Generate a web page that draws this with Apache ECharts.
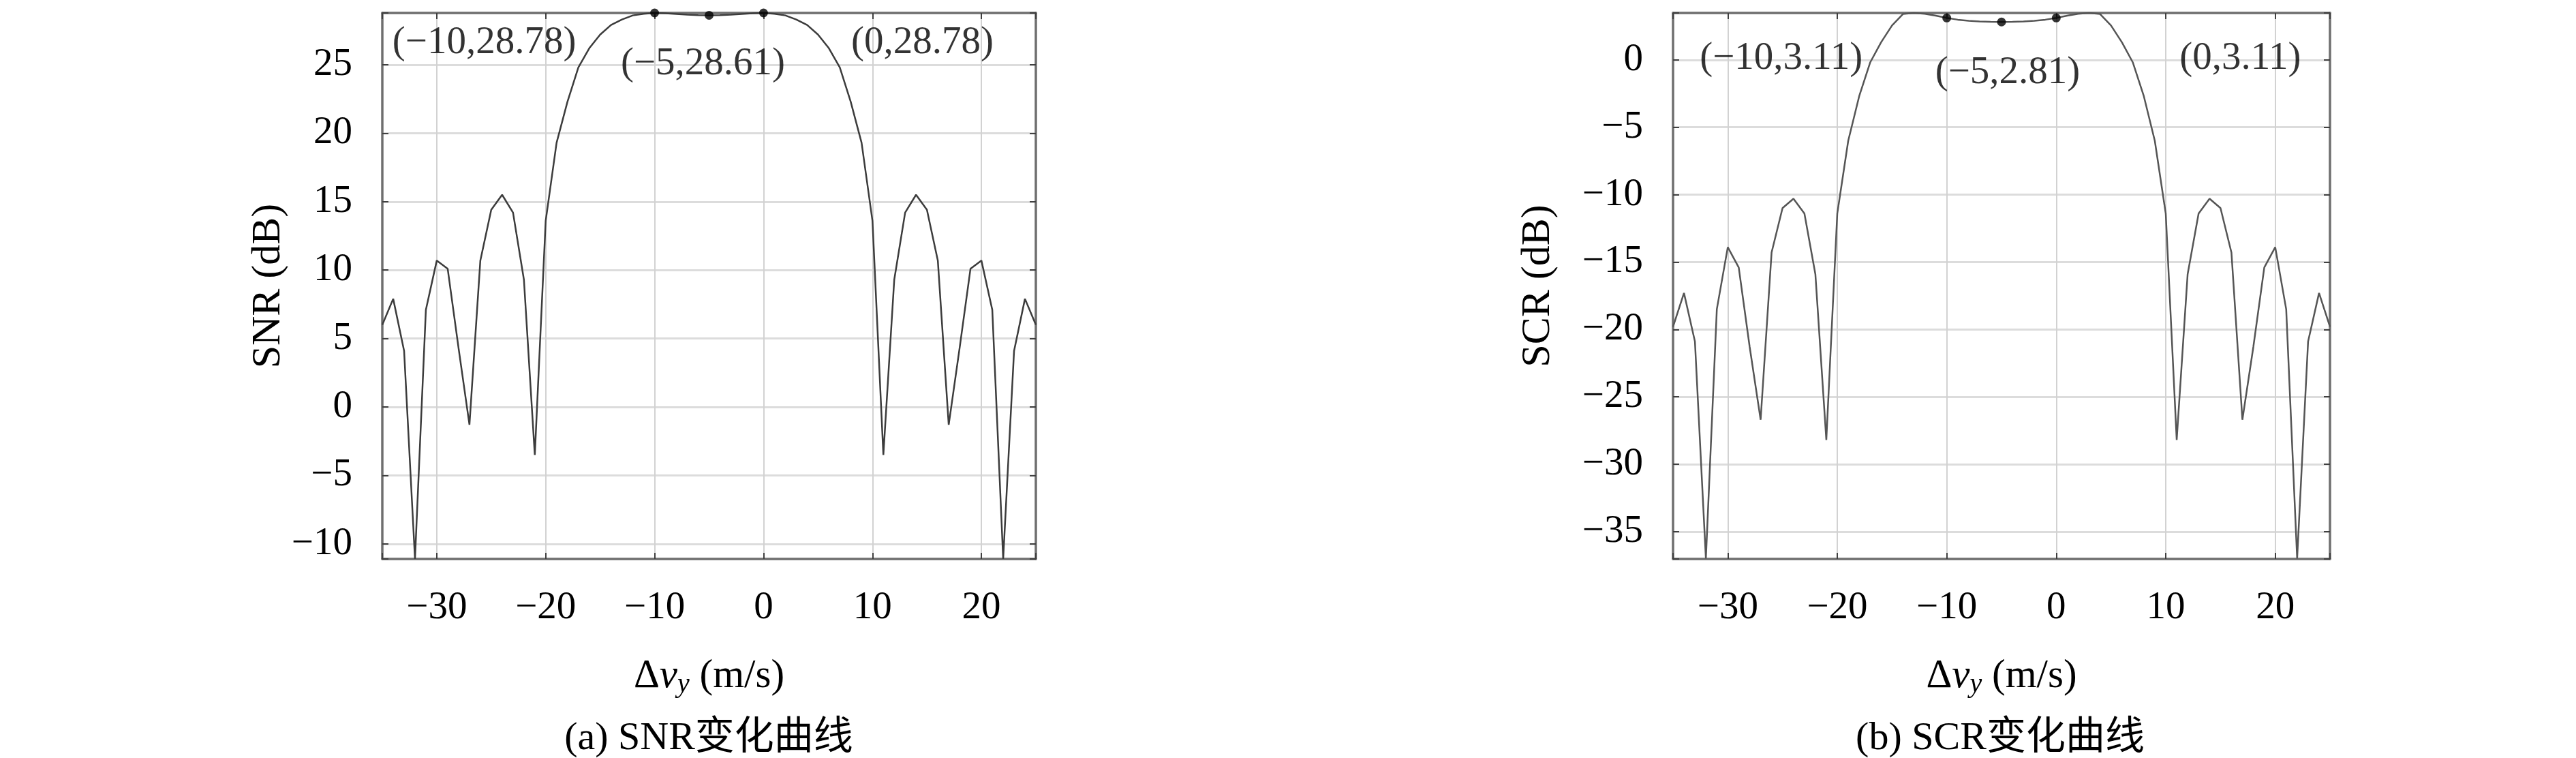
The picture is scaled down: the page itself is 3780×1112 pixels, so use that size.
<!DOCTYPE html>
<html>
<head>
<meta charset="utf-8">
<script src="https://cdn.jsdelivr.net/npm/echarts@6/dist/echarts.min.js"></script>
<style>
html,body{margin:0;padding:0;background:#ffffff;}
#chart{width:3780px;height:1112px;}
</style>
</head>
<body>
<div id="chart"></div>
<script>
// ---------------- data ----------------
const velocity = [-35,-34,-33,-32,-31,-30,-29,-28,-27,-26,-25,-24,-23,-22,-21,-20,-19,-18,-17,-16,-15,-14,-13,-12,-11,-10,-9,-8,-7,-6,-5,-4,-3,-2,-1,0,1,2,3,4,5,6,7,8,9,10,11,12,13,14,15,16,17,18,19,20,21,22,23,24,25];
const snrValues = [6.0,7.9,4.1,-11.1,7.1,10.7,10.1,4.3,-1.3,10.7,14.4,15.5,14.2,9.3,-3.5,13.6,19.3,22.3,24.8,26.2,27.2,27.9,28.3,28.6,28.72,28.78,28.76,28.71,28.66,28.62,28.61,28.62,28.66,28.71,28.76,28.78,28.72,28.6,28.3,27.9,27.2,26.2,24.8,22.3,19.3,13.6,-3.5,9.3,14.2,15.5,14.4,10.7,-1.3,4.3,10.1,10.7,7.1,-11.1,4.1,7.9,6.0];
const scrValues = [-19.8,-17.3,-20.9,-37.0,-18.5,-13.9,-15.4,-21.3,-26.7,-14.3,-11.0,-10.3,-11.4,-15.9,-28.2,-11.4,-6.0,-2.7,-0.2,1.3,2.55,3.4,3.48,3.42,3.28,3.11,2.98,2.9,2.85,2.82,2.81,2.82,2.85,2.9,2.98,3.11,3.28,3.42,3.48,3.4,2.55,1.3,-0.2,-2.7,-6.0,-11.4,-28.2,-15.9,-11.4,-10.3,-11.0,-14.3,-26.7,-21.3,-15.4,-13.9,-18.5,-37.0,-20.9,-17.3,-19.8];
const snrMarkX = [-10,-5,0];
const snrMarkY = [28.78,28.61,28.78];
const scrMarkX = [-10,-5,0];
const scrMarkY = [3.11,2.81,3.11];
const xTickLabels = [-30,-20,-10,0,10,20];
const snrTickLabels = [-10,-5,0,5,10,15,20,25];
const scrTickLabels = [-35,-30,-25,-20,-15,-10,-5,0];
const xRange = [-35,25];
const snrRange = [-11.1,28.78];
const scrRange = [-37.03,3.48];
const snrAxisTitle = 'SNR (dB)';
const scrAxisTitle = 'SCR (dB)';
const captions = ['(a) SNR变化曲线','(b) SCR变化曲线'];

// ---------------- styling / layout ----------------
const FONT = '"Liberation Serif", "Times New Roman", serif';
const MINUS = '\u2212';
const fmt = v => (v < 0 ? MINUS + Math.abs(v) : String(v));
const frameLine = {show:true, onZero:false, lineStyle:{color:'#6f6f6f', width:3.5}};
const tickStyle = {show:true, inside:true, length:9, lineStyle:{color:'#404040', width:2}};

function pairs(xs, ys){ return xs.map((x,i)=>[x, ys[i]]); }

function xAxes(gridIndex){
  return [
    {
      type:'value', gridIndex, min:xRange[0], max:xRange[1], splitNumber:6, position:'bottom',
      axisLine:frameLine, axisTick:tickStyle,
      axisLabel:{show:true, margin:44, fontSize:57, fontFamily:FONT, color:'#000',
        formatter: v => xTickLabels.includes(v) ? fmt(v) : ''},
      splitLine:{show:true, lineStyle:{color:'#d2d2d2', width:2}},
      name:'{d|Δ}{v|v}{s|y}{d| (m/s)}', nameLocation:'middle', nameGap:136,
      nameTextStyle:{color:'#000', fontFamily:FONT, fontSize:59,
        rich:{
          d:{fontFamily:FONT, fontSize:59, lineHeight:72, color:'#000'},
          v:{fontFamily:FONT, fontStyle:'italic', fontSize:59, lineHeight:72, color:'#000'},
          s:{fontFamily:FONT, fontStyle:'italic', fontSize:40, lineHeight:72, padding:[24,0,0,0], color:'#000'}
        }}
    },
    {
      type:'value', gridIndex, min:xRange[0], max:xRange[1], splitNumber:6, position:'top',
      axisLine:frameLine, axisTick:tickStyle, axisLabel:{show:false}, splitLine:{show:false}
    }
  ];
}

function yAxes(gridIndex, range, ticks, title, gap){
  return [
    {
      type:'value', gridIndex, min:range[0], max:range[1], splitNumber:8, position:'left',
      axisLine:frameLine, axisTick:tickStyle,
      axisLabel:{show:true, margin:44, fontSize:57, fontFamily:FONT, color:'#000',
        formatter: v => ticks.includes(v) ? fmt(v) : ''},
      splitLine:{show:true, lineStyle:{color:'#dcdcdc', width:3}},
      name:title, nameLocation:'middle', nameGap:gap,
      nameTextStyle:{color:'#000', fontFamily:FONT, fontSize:60}
    },
    {
      type:'value', gridIndex, min:range[0], max:range[1], splitNumber:8, position:'right',
      axisLine:frameLine, axisTick:tickStyle, axisLabel:{show:false}, splitLine:{show:false}
    }
  ];
}

function markSeries(xi, yi, xs, ys, offsets){
  return {
    type:'scatter', xAxisIndex:xi, yAxisIndex:yi, clip:false, z:10,
    symbol:'circle', symbolSize:13, itemStyle:{color:'#000'},
    data: xs.map((x,i)=>({
      value:[x, ys[i]],
      label:{show:true, position:'inside', offset:offsets[i]}
    })),
    label:{show:true, color:'#000', fontFamily:FONT, fontSize:57,
      formatter: p => '(' + fmt(p.value[0]) + ',' + p.value[1].toFixed(2) + ')'},
    emphasis:{disabled:true}
  };
}

const option = {
  animation:false,
  backgroundColor:'#ffffff',
  grid:[
    {left:561, right:2260, top:19, bottom:292, containLabel:false},
    {left:2455, right:361, top:19, bottom:292, containLabel:false}
  ],
  xAxis:[...xAxes(0), ...xAxes(1)],
  yAxis:[...yAxes(0, snrRange, snrTickLabels, snrAxisTitle, 122), ...yAxes(1, scrRange, scrTickLabels, scrAxisTitle, 168)],
  series:[
    {type:'line', xAxisIndex:0, yAxisIndex:0, data:pairs(velocity, snrValues), showSymbol:false,
      lineStyle:{color:'#3c3c3c', width:2.5}, z:3, emphasis:{disabled:true}},
    {type:'line', xAxisIndex:2, yAxisIndex:2, data:pairs(velocity, scrValues), showSymbol:false,
      lineStyle:{color:'#555555', width:2.5}, z:3, emphasis:{disabled:true}},
    markSeries(0, 0, snrMarkX, snrMarkY, [[-250,44],[-9,72],[233,44]]),
    markSeries(2, 2, scrMarkX, scrMarkY, [[-243,60],[9,75],[270,60]])
  ],
  graphic:[
    {type:'text', x:1040, y:1084, style:{text:captions[0], font:'58px "Liberation Serif", "Noto Sans CJK SC"', fill:'#000', textAlign:'center', textVerticalAlign:'middle', verticalAlign:'middle'}},
    {type:'text', x:2935, y:1084, style:{text:captions[1], font:'58px "Liberation Serif", "Noto Sans CJK SC"', fill:'#000', textAlign:'center', textVerticalAlign:'middle', verticalAlign:'middle'}}
  ]
};

const chart = echarts.init(document.getElementById('chart'), null, {renderer:'canvas'});
chart.setOption(option);
</script>
</body>
</html>
